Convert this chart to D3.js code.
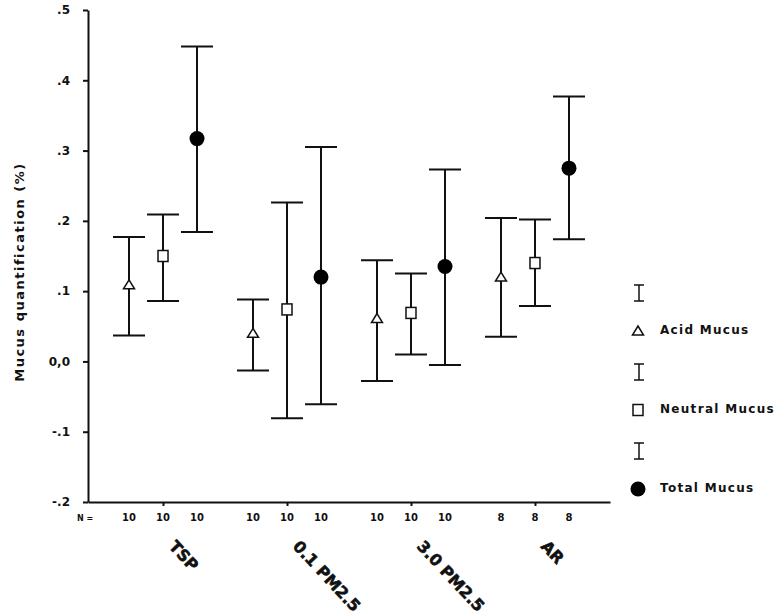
<!DOCTYPE html>
<html>
<head>
<meta charset="utf-8">
<script src="https://cdn.jsdelivr.net/npm/d3@7"></script>
<style>
  html, body { margin: 0; padding: 0; background: #fff; }
  svg { display: block; }
  text { font-family: "DejaVu Sans", sans-serif; font-weight: bold; fill: #111; }
</style>
</head>
<body>
<svg id="chart" width="780" height="614"></svg>
<script>
// ---- data ----
const groups = ["TSP", "0.1 PM2.5", "3.0 PM2.5", "AR"];
const series = ["Acid Mucus", "Neutral Mucus", "Total Mucus"];

const acidMean  = [0.109, 0.040, 0.061, 0.120];
const acidLow   = [0.037, -0.013, -0.028, 0.035];
const acidHigh  = [0.177, 0.088, 0.144, 0.204];

const neutralMean = [0.150, 0.074, 0.069, 0.140];
const neutralLow  = [0.086, -0.081, 0.010, 0.079];
const neutralHigh = [0.209, 0.226, 0.125, 0.202];

const totalMean = [0.317, 0.120, 0.135, 0.275];
const totalLow  = [0.184, -0.061, -0.005, 0.174];
const totalHigh = [0.448, 0.305, 0.273, 0.377];

const nCounts = [10, 10, 10, 8];

const yTickValues = [0.5, 0.4, 0.3, 0.2, 0.1, 0.0, -0.1, -0.2];
const yTickLabels = [".5", ".4", ".3", ".2", ".1", "0,0", "-.1", "-.2"];

const yLabel = "Mucus quantification (%)";
const nLabel = "N =";

// ---- build ----
const svg = d3.select("#chart");
const mLeft = 88, mRight = 610, mTop = 10, mBottom = 502;

const y = d3.scaleLinear().domain([-0.2, 0.5]).range([mBottom, mTop]);
const xg = d3.scalePoint().domain(groups).range([mLeft, mRight]).padding(0.605);
const xs = d3.scalePoint().domain(series).range([-34, 34]);

const rows = [];
const sets = [
  [acidMean, acidLow, acidHigh],
  [neutralMean, neutralLow, neutralHigh],
  [totalMean, totalLow, totalHigh]
];
groups.forEach((g, gi) => {
  series.forEach((s, si) => {
    rows.push({ g, s, mean: sets[si][0][gi], lo: sets[si][1][gi], hi: sets[si][2][gi], n: nCounts[gi] });
  });
});

// axes
const yAxis = d3.axisLeft(y).tickValues(yTickValues)
  .tickFormat((d, i) => yTickLabels[i]).tickSize(5).tickSizeOuter(0).tickPadding(13);
const gy = svg.append("g").attr("transform", `translate(${mLeft},0)`).call(yAxis);
gy.selectAll("path, line").attr("stroke", "#111").attr("stroke-width", 2);
gy.selectAll("text").attr("font-size", 12).attr("font-family", "DejaVu Sans").attr("font-weight", "bold").attr("fill", "#111");

const xAxis = d3.axisBottom(xg).tickSize(4).tickSizeOuter(0).tickFormat("");
const gx = svg.append("g").attr("transform", `translate(0,${mBottom})`).call(xAxis);
gx.selectAll("path, line").attr("stroke", "#111").attr("stroke-width", 2);

// y label
svg.append("text")
  .attr("transform", `translate(20,272) rotate(-90)`)
  .attr("text-anchor", "middle")
  .attr("dominant-baseline", "middle")
  .attr("font-size", 13)
  .attr("letter-spacing", "1.5px")
  .text(yLabel);

// N labels
svg.append("text").attr("x", 85).attr("y", 521).attr("text-anchor", "middle")
  .attr("font-size", 8).attr("font-family", "Liberation Serif, serif").text(nLabel);
svg.selectAll("text.nlab").data(rows).join("text").attr("class", "nlab")
  .attr("x", d => xg(d.g) + xs(d.s)).attr("y", 521).attr("text-anchor", "middle")
  .attr("font-size", 10).text(d => d.n);

// category labels
svg.selectAll("text.cat").data(groups).join("text").attr("class", "cat")
  .attr("transform", d => `translate(${xg(d) + 5},547) rotate(47)`)
  .attr("font-size", 16).attr("font-weight", "900")
  .attr("stroke", "#111").attr("stroke-width", 0.6).text(d => d);

// error bars
const capW = 16;
const eb = svg.append("g").selectAll("g").data(rows).join("g")
  .attr("transform", d => `translate(${xg(d.g) + xs(d.s)},0)`);
eb.append("line").attr("y1", d => y(d.lo)).attr("y2", d => y(d.hi))
  .attr("stroke", "#111").attr("stroke-width", 2);
eb.append("line").attr("x1", -capW).attr("x2", capW).attr("y1", d => y(d.hi)).attr("y2", d => y(d.hi))
  .attr("stroke", "#111").attr("stroke-width", 2);
eb.append("line").attr("x1", -capW).attr("x2", capW).attr("y1", d => y(d.lo)).attr("y2", d => y(d.lo))
  .attr("stroke", "#111").attr("stroke-width", 2);

function drawMarker(sel, s) {
  if (s === "Acid Mucus") {
    sel.append("path").attr("d", "M0,-5 L5.5,4 L-5.5,4 Z")
      .attr("fill", "#fff").attr("stroke", "#111").attr("stroke-width", 1.5);
  } else if (s === "Neutral Mucus") {
    sel.append("rect").attr("x", -5).attr("y", -5.5).attr("width", 10).attr("height", 11)
      .attr("fill", "#fff").attr("stroke", "#111").attr("stroke-width", 1.5);
  } else {
    sel.append("circle").attr("r", 7.5).attr("fill", "#000");
  }
}
eb.each(function(d) {
  const m = d3.select(this).append("g").attr("transform", `translate(0,${y(d.mean)})`);
  drawMarker(m, d.s);
});

// legend
const lg = svg.append("g").selectAll("g").data(series).join("g")
  .attr("transform", (d, i) => `translate(639,${293 + i * 79})`);
lg.append("line").attr("y1", -8).attr("y2", 8).attr("stroke", "#111").attr("stroke-width", 1.5);
lg.append("line").attr("x1", -5).attr("x2", 5).attr("y1", -8).attr("y2", -8).attr("stroke", "#111").attr("stroke-width", 1.5);
lg.append("line").attr("x1", -5).attr("x2", 5).attr("y1", 8).attr("y2", 8).attr("stroke", "#111").attr("stroke-width", 1.5);
lg.each(function(d) {
  const m = d3.select(this).append("g").attr("transform", "translate(-1,38)");
  drawMarker(m, d);
});
lg.append("text").attr("x", 21).attr("y", 37).attr("dominant-baseline", "middle")
  .attr("font-size", 12).attr("letter-spacing", "1.3px").text(d => d);
</script>
</body>
</html>
